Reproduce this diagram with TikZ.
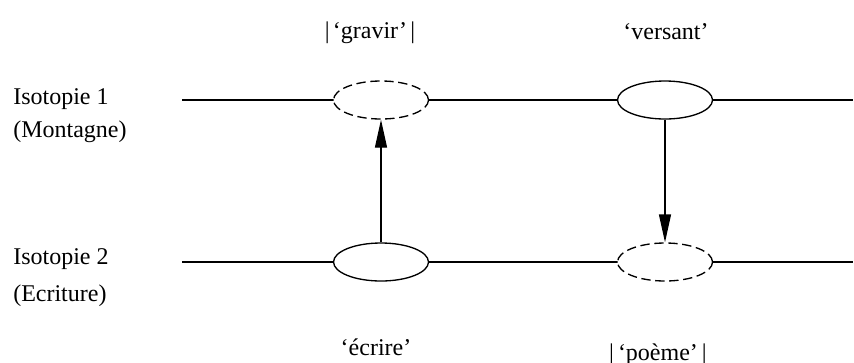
\documentclass[tikz,border=0pt]{standalone}
\usepackage{fontspec}
\setmainfont{Liberation Serif}
\usetikzlibrary{shapes.geometric,arrows.meta}
\begin{document}
\begin{tikzpicture}[x=0.75pt,y=-0.75pt,
  lab/.style={inner sep=0pt,anchor=base,font=\fontsize{18}{21}\selectfont},
  ell/.style={draw,fill=white,shape=ellipse,inner sep=0pt,minimum width=71.25pt,minimum height=28.5pt,line width=1pt},
  dsh/.style={dash pattern=on 7pt off 3.5pt},
  ln/.style={line width=0.8pt},
  arr/.style={line width=1pt,-{Triangle[length=21pt,width=9pt]}}
]
\useasboundingbox (0,0) rectangle (854,362);
\coordinate (l1a) at (182,100);
\coordinate (l1b) at (853,100);
\coordinate (l2a) at (182,262);
\coordinate (l2b) at (853,262);
\draw[ln] (l1a) -- (l1b);
\draw[ln] (l2a) -- (l2b);
\node[ell,dsh] (e1) at (381,100) {};
\node[ell] (e2) at (665,100) {};
\node[ell] (e3) at (381,262) {};
\node[ell,dsh] (e4) at (665,262) {};
\draw[arr] (e3.north) -- (e1.south);
\draw[arr] (e2.south) -- (e4.north);
\node[lab] (g) at (370,38) {|\kern2.5pt‘gravir’\kern2.5pt|};
\node[lab] (v) at (666,39) {‘versant’};
\node[lab] (ec) at (376,355) {‘écrire’};
\node[lab] (p) at (658,360) {|\kern3pt‘poème’\kern3pt|};
\node[lab,anchor=base west] (i1) at (13,104) {Isotopie 1};
\node[lab,anchor=base west] (m1) at (13,137) {(Montagne)};
\node[lab,anchor=base west] (i2) at (13,264) {Isotopie 2};
\node[lab,anchor=base west] (m2) at (13,301) {(Ecriture)};
\end{tikzpicture}
\end{document}
